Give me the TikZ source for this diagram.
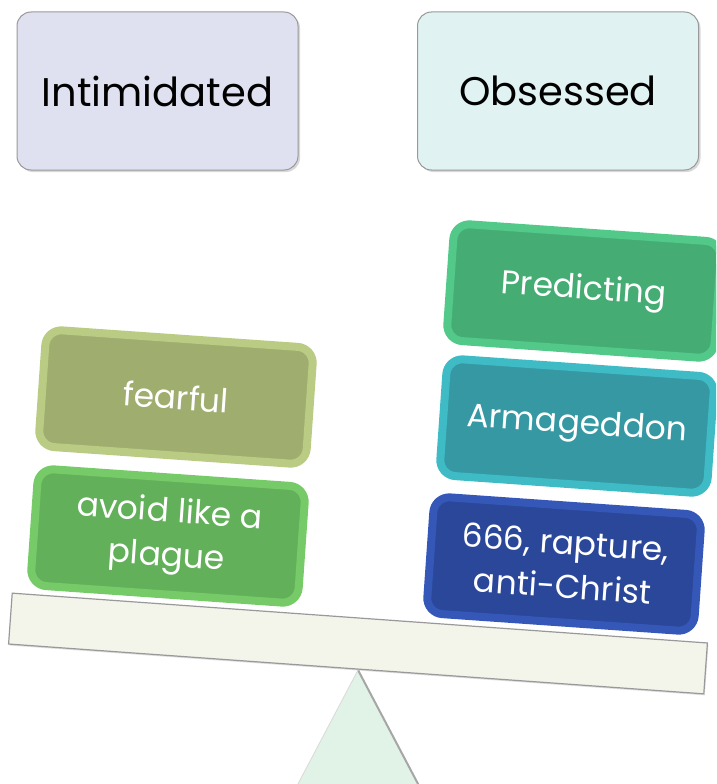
\documentclass[tikz,border=0pt]{standalone}
\usepackage{fontspec}
\setmainfont{Poppins}
\usetikzlibrary{shapes,positioning,shadows}

\definecolor{intimfill}{HTML}{DFE1F1}
\definecolor{obsfill}{HTML}{E0F2F2}
\definecolor{fearface}{HTML}{9FAD6F}
\definecolor{fearedge}{HTML}{BACB84}
\definecolor{avoidface}{HTML}{63B05A}
\definecolor{avoidedge}{HTML}{76CB68}
\definecolor{predface}{HTML}{45AD74}
\definecolor{prededge}{HTML}{52C889}
\definecolor{armaface}{HTML}{3598A2}
\definecolor{armaedge}{HTML}{3FBBC6}
\definecolor{raptface}{HTML}{2A479A}
\definecolor{raptedge}{HTML}{3558B8}
\definecolor{beamfill}{HTML}{F3F5EA}
\definecolor{pivotfill}{HTML}{E1F2E6}

\begin{document}
\begin{tikzpicture}[
  x=1pt, y=-1pt,
  topbox/.style={rectangle, draw=gray!80, line width=1pt, rounded corners=14pt,
    minimum width=281pt, minimum height=158pt, align=center,
    font=\fontsize{40}{44}\selectfont,
    drop shadow={shadow xshift=2pt, shadow yshift=-2pt, fill=gray!60}},
  weight/.style={rectangle, rounded corners=16pt, line width=8pt,
    minimum width=268pt, minimum height=117pt, rotate=-4, align=center,
    text=white, font=\fontsize{33}{44}\selectfont},
  beam/.style={rectangle, draw=gray!80, line width=1.2pt, fill=beamfill,
    minimum width=697pt, minimum height=51pt, rotate=-4.1,
    drop shadow={shadow xshift=1pt, shadow yshift=-1.5pt, fill=gray!50}}
]
\clip (0,0) rectangle (716,784);

% headings
\node[topbox, fill=intimfill] (intimidated) at (157.5,91) {Intimidated};
\node[topbox, fill=obsfill] (obsessed) at (558,91) {Obsessed};

% pivot and beam
\node[coordinate] (apex) at (358,670) {};
\fill[pivotfill] (apex) -- (289.5,800) -- (426.5,800) -- cycle;
\draw[gray!70, line width=2pt] (apex) -- (426.5,800);
\draw[gray!30, line width=0.8pt] (apex) -- (289.5,800);
\node[beam] (bar) at (358,643.5) {};

% left pan
\node[weight, draw=fearedge, fill=fearface] (fearful) at (176,397) {fearful};
\node[weight, draw=avoidedge, fill=avoidface] (avoid) at (168,536) {avoid like a\\plague};

% right pan
\node[weight, draw=prededge, fill=predface] (predicting) at (584,291) {Predicting};
\node[weight, draw=armaedge, fill=armaface] (armageddon) at (577,426) {Armageddon};
\node[weight, draw=raptedge, fill=raptface] (rapture) at (564,564) {666, rapture,\\anti-Christ};

\end{tikzpicture}
\end{document}
